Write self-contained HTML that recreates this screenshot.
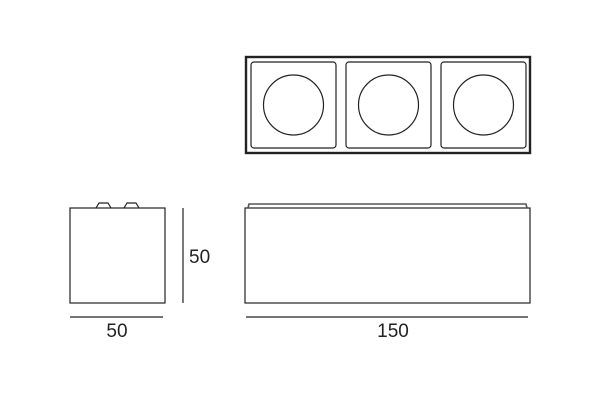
<!DOCTYPE html>
<html><head><style>body{margin:0;background:#fff}svg{display:block}</style></head><body>
<svg width="600" height="400" viewBox="0 0 600 400" xmlns="http://www.w3.org/2000/svg">
<g fill="none" stroke="#222" stroke-width="1.2">
<rect x="246" y="57" width="284" height="96" stroke-width="2.4"/>
<rect x="251" y="62" width="85" height="86" rx="3"/>
<rect x="346" y="62" width="85" height="86" rx="3"/>
<rect x="441" y="62" width="85" height="86" rx="3"/>
<circle cx="293.5" cy="105" r="30"/>
<circle cx="388.5" cy="105" r="30"/>
<circle cx="483.5" cy="105" r="30"/>
<rect x="70" y="208" width="95" height="95"/>
<path d="M96 208 L99 203 L108 203 L111 208 M124 208 L127 203 L136 203 L139 208"/>
<line x1="183" y1="208" x2="183" y2="303"/>
<line x1="70" y1="317" x2="163" y2="317"/>
<rect x="245" y="208" width="285" height="95"/>
<path d="M248 208 L249 204 L526 204 L527 208" stroke-width="1.6" stroke="#555"/>
<line x1="246" y1="317" x2="528" y2="317"/>
</g>
<g font-family="Liberation Sans, sans-serif" font-size="19" fill="#222">
<text x="189" y="263">50</text>
<text x="117" y="337" text-anchor="middle">50</text>
<text x="393" y="337" text-anchor="middle">150</text>
</g>
</svg>
</body></html>
